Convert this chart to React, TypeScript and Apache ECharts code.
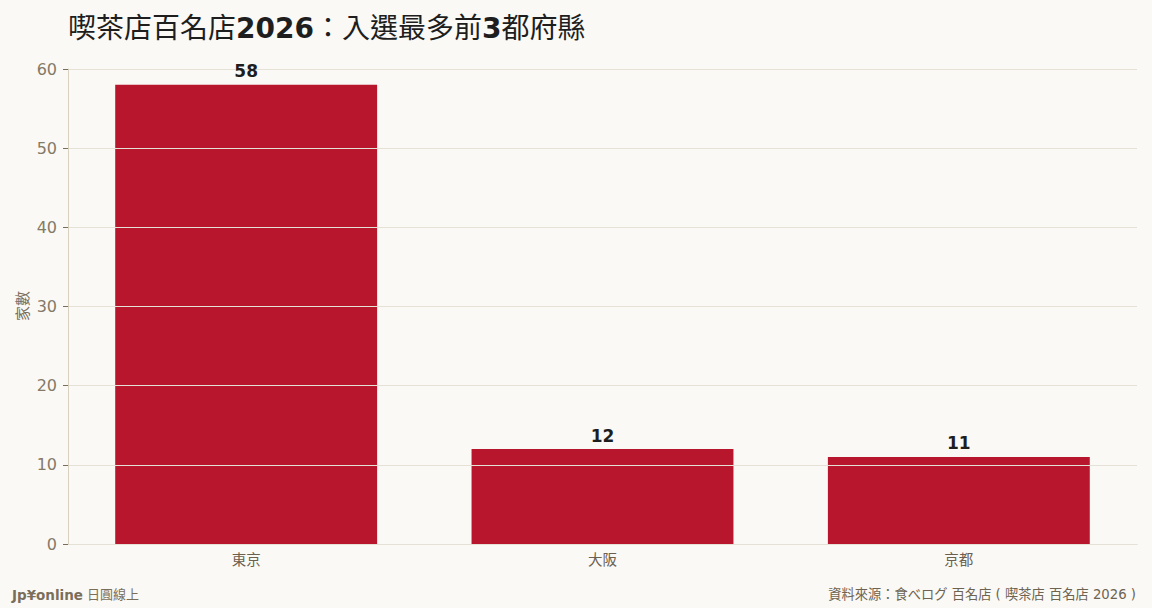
import { useEffect, useRef } from 'react';
import * as echarts from 'echarts';

const categories = ['東京', '大阪', '京都'];
const counts = [58, 12, 11];
const yTicks = { min: 0, max: 60, interval: 10 };

const FONT = '"DejaVu Sans", "Noto Sans CJK TC", sans-serif';

export default function App() {
  const chartRef = useRef<HTMLDivElement>(null);

  useEffect(() => {
    if (!chartRef.current) return;
    const chart = echarts.init(chartRef.current, null, { renderer: 'svg' });

    chart.setOption({
      animation: false,
      backgroundColor: '#faf9f6',
      title: {
        left: 63,
        top: 9,
        text: '喫茶店百名店{b|2026}：入選最多前{b|3}都府縣',
        textStyle: {
          fontFamily: FONT,
          fontSize: 28,
          fontWeight: 'normal',
          color: '#1e1e1e',
          rich: {
            b: { fontFamily: FONT, fontSize: 28, fontWeight: 'bold', color: '#1e1e1e' },
          },
        },
      },
      grid: { left: 68, right: 15, top: 69, bottom: 64 },
      xAxis: {
        type: 'category',
        data: categories,
        axisLine: { lineStyle: { color: '#d8d0c0' } },
        axisTick: { alignWithLabel: true, length: 5, lineStyle: { color: '#8a7f6c' } },
        axisLabel: { color: '#6b604e', fontSize: 14.5, fontFamily: FONT, margin: 9 },
      },
      yAxis: {
        type: 'value',
        min: yTicks.min,
        max: yTicks.max,
        interval: yTicks.interval,
        z: 3,
        axisLine: { show: true, lineStyle: { color: '#d8d0c0' } },
        axisTick: { show: true, length: 5, lineStyle: { color: '#7a6e5a' } },
        axisLabel: { color: '#857a66', fontSize: 16, fontFamily: FONT, margin: 11 },
        splitLine: { lineStyle: { color: '#e6e1d6', width: 1 } },
      },
      series: [
        {
          type: 'bar',
          data: counts,
          barWidth: '73.5%',
          itemStyle: { color: '#b8162c' },
        },
        {
          // transparent copy that carries the value labels above the grid lines
          type: 'bar',
          data: counts,
          barWidth: '73.5%',
          barGap: '-100%',
          z: 5,
          silent: true,
          itemStyle: { color: 'rgba(0,0,0,0)' },
          label: {
            show: true,
            position: 'top',
            distance: 5,
            color: '#1e1e1e',
            fontSize: 17,
            fontWeight: 'bold',
            fontFamily: FONT,
          },
        },
      ],
      graphic: [
        {
          // y axis name
          type: 'text',
          x: 23,
          y: 306,
          rotation: Math.PI / 2,
          style: {
            text: '家數',
            fill: '#7a6e5a',
            font: `15px ${FONT}`,
            align: 'center',
            verticalAlign: 'middle',
          },
        },
        {
          type: 'text',
          left: 12,
          top: 588,
          style: {
            text: '{b|Jp¥online} 日圓線上',
            fill: '#7a6e5a',
            font: `13px ${FONT}`,
            rich: {
              b: { fontWeight: 'bold', fontSize: 13.5, fontFamily: FONT, fill: '#7a6e5a' },
            },
          },
        },
        {
          type: 'text',
          right: 16,
          top: 588,
          style: {
            text: '資料來源：食べログ 百名店 ( 喫茶店 百名店 2026 )',
            fill: '#6e6350',
            font: `13.25px ${FONT}`,
          },
        },
      ],
    });

    return () => {
      chart.dispose();
    };
  }, []);

  return (
    <div
      ref={chartRef}
      style={{ position: 'fixed', left: 0, top: 0, width: 1152, height: 608 }}
    />
  );
}
